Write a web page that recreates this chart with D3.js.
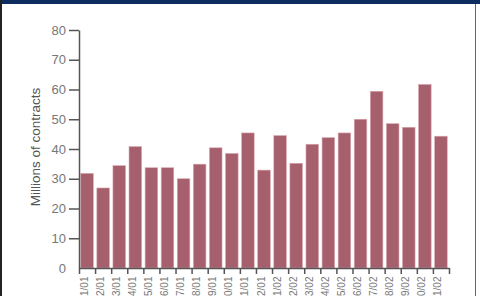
<!DOCTYPE html>
<html><head><meta charset="utf-8">
<script src="https://cdn.jsdelivr.net/npm/d3@7"></script>
<style>body{margin:0;background:#fff}svg{display:block}</style>
</head><body>
<svg id="c" width="480" height="296"></svg>
<script>
const months = ["1/01","2/01","3/01","4/01","5/01","6/01","7/01","8/01","9/01","10/01","11/01","12/01",
                "1/02","2/02","3/02","4/02","5/02","6/02","7/02","8/02","9/02","10/02","11/02"];
const contracts = [31.8,26.9,34.4,40.8,33.7,33.7,30.0,34.9,40.4,38.5,45.4,32.9,
                   44.5,35.2,41.6,43.8,45.4,50.0,59.4,48.5,47.3,61.7,44.3];
const yTicks = [0,10,20,30,40,50,60,70,80];

const svg = d3.select("#c");
// frame
svg.append("rect").attr("x",0).attr("y",0).attr("width",480).attr("height",296).attr("fill","#fff");
svg.append("rect").attr("x",0).attr("y",0).attr("width",480).attr("height",4).attr("fill","#0c2d5e");
svg.append("rect").attr("x",0).attr("y",0).attr("width",2).attr("height",296).attr("fill","#222");
svg.append("line").attr("x1",475.5).attr("x2",475.5).attr("y1",4).attr("y2",296).attr("stroke","#666").attr("stroke-width",1);

const x0 = 79, x1 = 449, yTop = 30, yBot = 268;
const x = d3.scaleBand().domain(months).range([x0,x1]).paddingInner(0.22).paddingOuter(0.11);
const y = d3.scaleLinear().domain([0,80]).range([yBot,yTop]);
const xb = d3.scaleLinear().domain([0,months.length]).range([x0,x1]);

// bars
svg.append("g").selectAll("rect").data(months).join("rect")
  .attr("x",d=>x(d)).attr("width",x.bandwidth())
  .attr("y",(d,i)=>y(contracts[i])).attr("height",(d,i)=>yBot-y(contracts[i]))
  .attr("fill","#a65f6d").attr("stroke","#d9a6ae").attr("stroke-width",0.6);

// y axis
const ya = svg.append("g").attr("transform",`translate(${x0},0)`)
  .call(d3.axisLeft(y).tickValues(yTicks).tickSize(10).tickSizeOuter(0).tickPadding(3));
ya.select(".domain").attr("stroke","#555").attr("stroke-width",1.5);
ya.selectAll(".tick line").attr("stroke","#555").attr("stroke-width",1.5);
ya.selectAll(".tick").filter(d=>d===0).select("line").remove();
ya.selectAll(".tick text").attr("font-family","Liberation Sans, Arial, sans-serif").attr("font-size",13).attr("fill","#777");

// x axis boundaries
const xa = svg.append("g").attr("transform",`translate(0,${yBot})`)
  .call(d3.axisBottom(xb).tickValues(d3.range(months.length+1)).tickSize(6).tickSizeOuter(0).tickFormat(""));
xa.select(".domain").attr("stroke","#555").attr("stroke-width",1.5);
xa.selectAll(".tick line").attr("stroke","#555").attr("stroke-width",1.5);

// x labels
svg.append("g").selectAll("text").data(months).join("text")
  .attr("transform",d=>`translate(${x(d)+x.bandwidth()/2+0.5},276.5) rotate(-90)`)
  .attr("text-anchor","end")
  .attr("font-family","Liberation Sans, Arial, sans-serif").attr("font-size",10).attr("fill","#777")
  .text(d=>d);

// y label
svg.append("text").attr("transform","translate(39.5,147) rotate(-90)")
  .attr("text-anchor","middle")
  .attr("font-family","Liberation Sans, Arial, sans-serif").attr("font-size",13.5).attr("fill","#555")
  .text("Millions of contracts");
</script>
</body></html>
